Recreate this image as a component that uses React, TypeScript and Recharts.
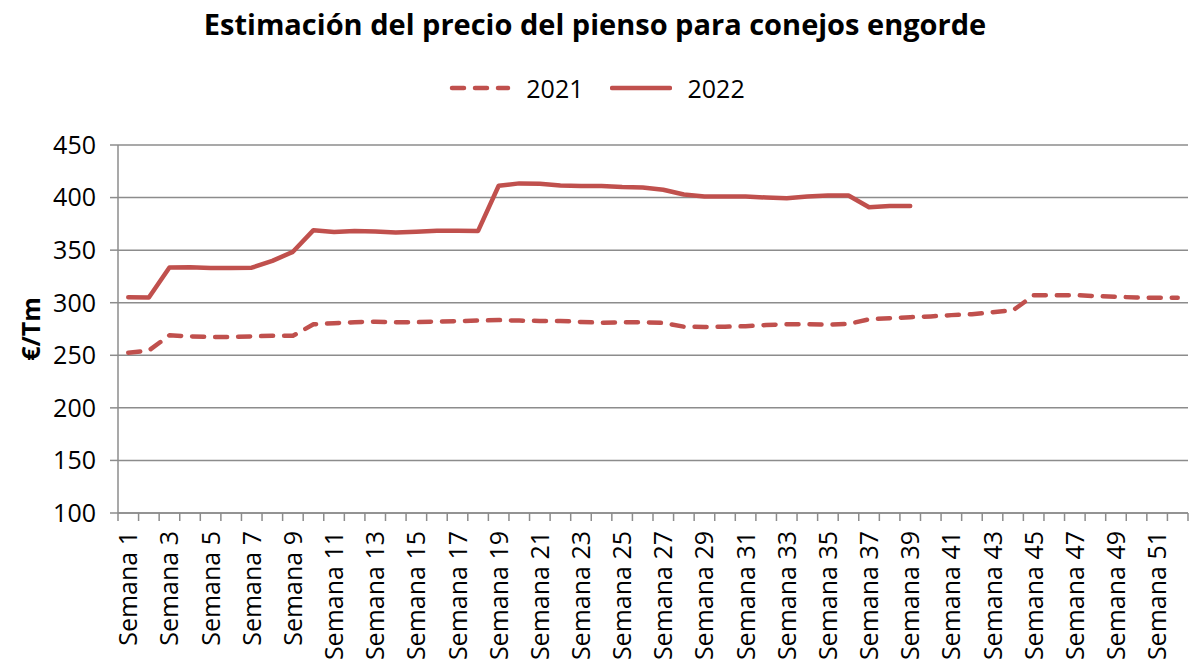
import React from 'react';
import { ComposedChart, Line, XAxis, YAxis, CartesianGrid, Legend } from 'recharts';

const weeks: string[] = Array.from({ length: 52 }, (_, i) => `Semana ${i + 1}`);

const price2021: number[] = [
  252.5, 254.5, 269, 268, 267.5, 267.5, 268, 268.5, 268.5, 279.5,
  280.5, 281.5, 282, 281.5, 281.5, 282, 282.5, 283, 283.5, 283,
  282.7, 282.7, 281.7, 281, 281.4, 281.4, 280.8, 277.2, 277, 277.2,
  277.6, 278.8, 279.5, 279.5, 279.2, 279.8, 284.3, 285.3, 286.2, 287,
  288.2, 289, 291, 292.8, 307, 307, 307.2, 306.3, 305.6, 305,
  304.7, 304.7,
];

const price2022: number[] = [
  305.3, 305, 333.5, 333.8, 333, 333, 333.3, 339.8, 348.4, 369,
  367.3, 368.3, 367.8, 366.8, 367.5, 368.5, 368.5, 368.3, 411.2, 413.5,
  413.1, 411.5, 411, 411, 410, 409.5, 407.4, 402.9, 401, 401,
  401, 400, 399.4, 401, 402, 402, 390.8, 392, 392,
];

const yTicks: number[] = [100, 150, 200, 250, 300, 350, 400, 450];

const data = weeks.map((w, i) => ({
  week: w,
  y2021: price2021[i],
  y2022: i < price2022.length ? price2022[i] : null,
}));

const RED = '#C0504D';
const GRAY = '#8C8C8C';
const FONT = '"Open Sans", "Noto Sans", sans-serif';

const W = 1190;
const H = 663;
const M = { top: 145, right: 2, bottom: 0, left: 0 };
const YW = 118;
const XH = 150;
const BAND = (W - M.left - YW - M.right) / weeks.length;

const XTick = (props: any) => {
  const { x, y, payload, index } = props;
  const half = payload && payload.offset ? payload.offset : BAND / 2;
  const axisY = y - 10;
  return (
    <g>
      <line x1={x - half} x2={x - half} y1={axisY} y2={axisY + 8} stroke={GRAY} strokeWidth={1.5} />
      {index === weeks.length - 1 && (
        <line x1={x + half} x2={x + half} y1={axisY} y2={axisY + 8} stroke={GRAY} strokeWidth={1.5} />
      )}
      {index % 2 === 0 && (
        <text
          x={0}
          y={0}
          transform={`translate(${x + 9},${axisY + 18}) rotate(-90)`}
          textAnchor="end"
          fontSize={25}
          fontFamily={FONT}
          fill="#000"
        >
          {payload.value}
        </text>
      )}
    </g>
  );
};

const YLabel = () => (
  <text
    x={0}
    y={0}
    transform={`translate(40,${M.top + 184}) rotate(-90)`}
    textAnchor="middle"
    fontSize={25}
    fontWeight="bold"
    fontFamily={FONT}
    fill="#000"
  >
    €/Tm
  </text>
);

const LegendContent = () => (
  <div style={{ display: 'flex', justifyContent: 'center', alignItems: 'center', fontFamily: FONT, fontSize: 25, lineHeight: '30px', paddingLeft: 4 }}>
    <svg width={62} height={10} style={{ marginRight: 15 }}>
      <line x1={3} x2={59} y1={5} y2={5} stroke={RED} strokeWidth={4.5} strokeDasharray="12 11" strokeLinecap="round" />
    </svg>
    <span style={{ marginRight: 26 }}>2021</span>
    <svg width={62} height={10} style={{ marginRight: 16 }}>
      <line x1={2} x2={60} y1={5} y2={5} stroke={RED} strokeWidth={4.5} strokeLinecap="round" />
    </svg>
    <span>2022</span>
  </div>
);

export default function App() {
  return (
    <div style={{ position: 'absolute', left: 0, top: 0, width: W, height: H, background: '#fff' }}>
      <div
        style={{
          position: 'absolute',
          left: 0,
          top: 5,
          width: W,
          textAlign: 'center',
          fontFamily: FONT,
          fontWeight: 'bold',
          fontSize: 29,
          lineHeight: '38px',
          color: '#000',
        }}
      >
        Estimación del precio del pienso para conejos engorde
      </div>
      <ComposedChart width={W} height={H} data={data} margin={M}>
        <CartesianGrid horizontal vertical={false} stroke={GRAY} strokeWidth={1.5} />
        <XAxis
          dataKey="week"
          scale="band"
          interval={0}
          height={XH}
          axisLine={{ stroke: GRAY, strokeWidth: 1.5 }}
          tickLine={false}
          tick={<XTick />}
          tickSize={8}
          tickMargin={2}
        />
        <YAxis
          width={YW}
          domain={[100, 450]}
          ticks={yTicks}
          interval={0}
          axisLine={{ stroke: GRAY, strokeWidth: 1.5 }}
          tickLine={{ stroke: GRAY, strokeWidth: 1.5 }}
          tickSize={8}
          tickMargin={14}
          tick={{ fontSize: 25, fontFamily: FONT, fill: '#000' }}
          label={<YLabel />}
        />
        <Legend
          verticalAlign="middle"
          align="center"
          layout="horizontal"
          wrapperStyle={{ top: 73, left: 0, width: W }}
          content={<LegendContent />}
        />
        <Line
          type="linear"
          dataKey="y2021"
          name="2021"
          stroke={RED}
          strokeWidth={4.5}
          strokeDasharray="12 11"
          strokeLinecap="round"
          strokeLinejoin="round"
          dot={false}
          activeDot={false}
          isAnimationActive={false}
        />
        <Line
          type="linear"
          dataKey="y2022"
          name="2022"
          stroke={RED}
          strokeWidth={4.5}
          strokeLinecap="round"
          strokeLinejoin="round"
          dot={false}
          activeDot={false}
          connectNulls={false}
          isAnimationActive={false}
        />
      </ComposedChart>
    </div>
  );
}
